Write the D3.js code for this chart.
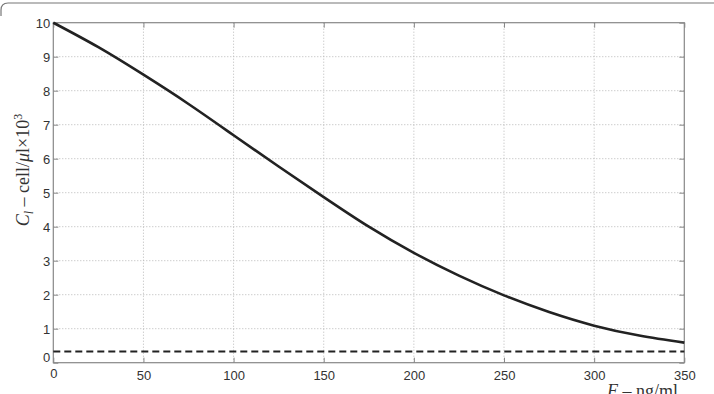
<!DOCTYPE html>
<html><head><meta charset="utf-8">
<script src="https://cdn.jsdelivr.net/npm/d3@7"></script>
<style>body{margin:0;background:#fff}svg{display:block}</style>
</head><body><svg id="c" width="714" height="394"></svg>
<script>
const xValues = [0,25,50,75,100,125,150,175,200,225,250,275,300,325,350];
const curveValues = [10,9.28,8.47,7.61,6.69,5.77,4.87,4.0,3.23,2.56,1.98,1.49,1.09,0.8,0.59];
const thresholdValue = [0.33];
const xTicks = [0,50,100,150,200,250,300,350];
const yTicks = [0,1,2,3,4,5,6,7,8,9,10];

const svg = d3.select('#c');
const L=53.3, R=684.3, T=22.7, B=362.7;
const x = d3.scaleLinear().domain([0,350]).range([L,R]);
const y = d3.scaleLinear().domain([0,10]).range([B,T]);

// outer frame fragment
svg.append('path').attr('d','M1,16 L1,10 Q1,3 8,3 L714,3').attr('fill','none').attr('stroke','#777').attr('stroke-width',1.2);

// grid
const grid = svg.append('g').attr('stroke','#b8b8b8').attr('stroke-width',1).attr('stroke-dasharray','1,2');
grid.selectAll('.gx').data(xTicks.slice(1,-1)).join('line').attr('x1',d=>x(d)).attr('x2',d=>x(d)).attr('y1',T).attr('y2',B);
grid.selectAll('.gy').data(yTicks.slice(1,-1)).join('line').attr('y1',d=>y(d)).attr('y2',d=>y(d)).attr('x1',L).attr('x2',R);

// axes (MATLAB style, inward ticks)
const ax = svg.append('g').attr('transform',`translate(0,${B})`).call(d3.axisBottom(x).tickValues(xTicks).tickSizeInner(-5).tickSizeOuter(0).tickPadding(6));
const ay = svg.append('g').attr('transform',`translate(${L},0)`).call(d3.axisLeft(y).tickValues(yTicks).tickSizeInner(-5).tickSizeOuter(0).tickPadding(3));
const axT = svg.append('g').attr('transform',`translate(0,${T})`).call(d3.axisTop(x).tickValues(xTicks).tickSizeInner(-5).tickSizeOuter(0).tickFormat(''));
const ayR = svg.append('g').attr('transform',`translate(${R},0)`).call(d3.axisRight(y).tickValues(yTicks).tickSizeInner(-5).tickSizeOuter(0).tickFormat(''));
[ax,ay,axT,ayR].forEach(g=>{
  g.attr('font-family','"Liberation Sans", Arial, Helvetica, sans-serif').attr('font-size',13);
  g.select('.domain').remove();
  g.selectAll('line').attr('stroke','#888');
  g.selectAll('text').attr('fill','#333');
});
ax.selectAll('text').attr('dy','0.9em');
ay.selectAll('text').attr('dy','0.35em');
ay.selectAll('.tick').filter(d=>d===0).select('text').attr('dy','-0.1em');
ax.selectAll('.tick').filter(d=>d===0).select('text').attr('dy','0.75em');

// box
svg.append('rect').attr('x',L).attr('y',T).attr('width',R-L).attr('height',B-T).attr('fill','none').attr('stroke','#888').attr('stroke-width',1.2);

// threshold dashed
svg.append('line').attr('x1',x(0)).attr('x2',x(350)).attr('y1',y(thresholdValue[0])).attr('y2',y(thresholdValue[0]))
  .attr('stroke','#222').attr('stroke-width',2).attr('stroke-dasharray','7,4');

// curve
const line = d3.line().x((d,i)=>x(xValues[i])).y(d=>y(d)).curve(d3.curveNatural);
svg.append('path').datum(curveValues).attr('d',line).attr('fill','none').attr('stroke','#222').attr('stroke-width',2.6);

// y label
const yl = svg.append('text').attr('transform','translate(29,170) rotate(-90)').attr('text-anchor','middle')
  .attr('font-family','"Liberation Serif", "DejaVu Serif", serif').attr('font-size',18).attr('fill','#333');
yl.append('tspan').attr('font-style','italic').text('C');
yl.append('tspan').attr('font-style','italic').attr('font-size',12).attr('dy',4).text('l');
yl.append('tspan').attr('dy',-4).text(' – cell/');
yl.append('tspan').attr('font-style','italic').text('μ');
yl.append('tspan').text('l×10');
yl.append('tspan').attr('font-size',12).attr('dy',-7).text('3');

// x label
const xl = svg.append('text').attr('x',607).attr('y',397)
  .attr('font-family','"Liberation Serif", "DejaVu Serif", serif').attr('font-size',18).attr('fill','#333');
xl.append('tspan').attr('font-style','italic').text('F');
xl.append('tspan').text(' – ng/ml');
</script></body></html>
